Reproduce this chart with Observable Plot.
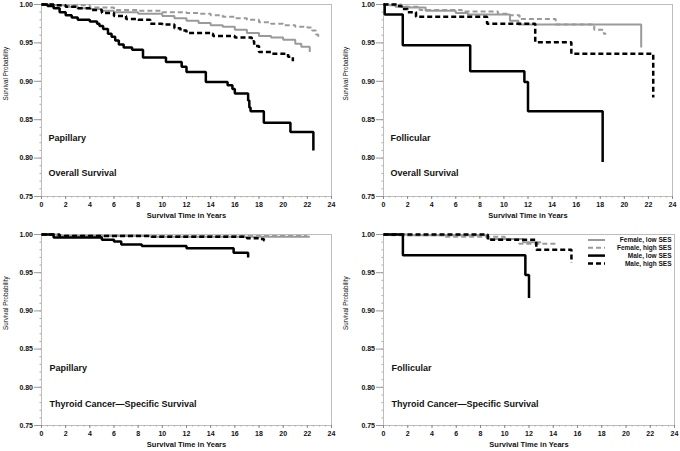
<!DOCTYPE html>
<html><head><meta charset="utf-8">
<script src="https://cdn.jsdelivr.net/npm/d3@7"></script>
<script src="https://cdn.jsdelivr.net/npm/@observablehq/plot@0.6"></script>
<style>
body{margin:0;background:#fff;}
#wrap{position:relative;width:680px;height:451px;overflow:hidden;background:#fff;}
#wrap svg{position:absolute;font-family:"Liberation Sans",Arial,sans-serif;}
</style></head><body><div id="wrap"></div>
<script>
// ---- categories / ticks ----
const groups = ["Female, low SES", "Female, high SES", "Male, low SES", "Male, high SES"];
const xTicks = [0,2,4,6,8,10,12,14,16,18,20,22,24];
const yTicks = [0.75,0.80,0.85,0.90,0.95,1.00];
const xTitle = "Survival Time in Years";
const yTitle = "Survival Probability";

// ---- Papillary, Overall Survival: [years, survival] ----
const papOS_FL = [[0,1],[1,0.999],[2,0.997],[3,0.995],[4,0.994],[5,0.992],[6,0.990],[8,0.988],[10,0.985],[11,0.982],[12,0.979],[13,0.976],[14,0.973],[15,0.971],[16,0.967],[17,0.963],[18,0.959],[19,0.957],[20,0.954],[21,0.949],[21.5,0.945],[22.2,0.945],[22.2,0.938]];
const papOS_FH = [[0,1],[1,0.9995],[2,0.999],[4,0.996],[6,0.993],[8,0.992],[10,0.990],[12,0.989],[13,0.988],[14,0.986],[15,0.984],[16,0.982],[17,0.980],[18,0.977],[19,0.975],[20,0.973],[21,0.971],[22,0.970],[22.4,0.966],[22.7,0.961],[22.9,0.957]];
const papOS_ML = [[0,1],[0.5,0.998],[1,0.995],[1.5,0.990],[2,0.986],[2.5,0.983],[3,0.980],[4,0.978],[4.6,0.975],[4.8,0.972],[5.1,0.968],[5.5,0.962],[5.8,0.958],[6.1,0.953],[6.4,0.948],[6.8,0.944],[7.5,0.941],[8.4,0.931],[10.3,0.925],[11.6,0.919],[12,0.912],[13.6,0.899],[15.4,0.895],[15.8,0.890],[16,0.884],[17.1,0.875],[17.2,0.866],[17.3,0.861],[18.4,0.846],[20.6,0.834],[22.3,0.834],[22.5,0.810]];
const papOS_MH = [[0,1],[1,0.999],[2,0.997],[3,0.995],[4,0.993],[5,0.989],[6,0.985],[7,0.981],[8,0.980],[9,0.975],[10,0.974],[11,0.969],[11.5,0.966],[12,0.963],[14,0.962],[14.2,0.959],[16,0.957],[17.4,0.952],[17.6,0.946],[18,0.938],[19,0.936],[20.4,0.932],[20.8,0.926]];

// ---- Follicular, Overall Survival ----
const folOS_FL = [[0,1],[0.5,0.999],[1,0.997],[2,0.996],[3.5,0.992],[6,0.989],[7,0.987],[10.5,0.979],[11.2,0.974],[21.4,0.974],[21.4,0.944]];
const folOS_FH = [[0,1],[1.5,0.997],[3,0.993],[6.5,0.991],[9.5,0.988],[10.5,0.986],[11.3,0.981],[14.3,0.974],[17.5,0.967],[18.3,0.962],[18.5,0.962]];
const folOS_ML = [[0,1],[0.1,0.987],[1.6,0.947],[7.2,0.913],[11.7,0.899],[12.0,0.861],[18.2,0.795]];
const folOS_MH = [[0,1],[1.2,0.998],[1.5,0.994],[2,0.990],[2.7,0.984],[8.6,0.975],[12.6,0.951],[15.6,0.936],[22.4,0.879]];

// ---- Papillary, Thyroid Cancer-Specific Survival ----
const papCS_FL = [[0,1],[1.3,0.998],[9,0.997],[22.2,0.997]];
const papCS_FH = [[0,1],[1,0.999],[8,0.998],[22,0.998]];
const papCS_ML = [[0,1],[1,0.996],[5,0.993],[6,0.991],[6.6,0.987],[8.3,0.985],[12,0.982],[15.9,0.976],[17.1,0.972],[17.1,0.970]];
const papCS_MH = [[0,1],[1.5,0.998],[9,0.997],[17,0.995],[18,0.994],[18.4,0.992],[18.6,0.992]];

// ---- Follicular, Thyroid Cancer-Specific Survival ----
const folCS_FL = [[0,1],[2,0.999],[8.6,0.994],[11.5,0.990],[13,0.990]];
const folCS_FH = [[0,1],[0.5,0.999],[5,0.997],[10,0.994],[11.2,0.988],[14.3,0.988]];
const folCS_ML = [[0,1],[1.6,0.973],[11.7,0.947],[12.0,0.917]];
const folCS_MH = [[0,1],[8.6,0.993],[12.6,0.980],[15.5,0.963]];

// ---- styles ----
const GRAY = "#9a9a9a";
const styles = [
  {stroke: GRAY, strokeWidth: 2, dash: null},
  {stroke: GRAY, strokeWidth: 2, dash: "5,3"},
  {stroke: "#000", strokeWidth: 2.5, dash: null},
  {stroke: "#000", strokeWidth: 2.5, dash: "5,3"}
];
const FONT = "Liberation Sans, Arial, sans-serif";
const xMinor = d3.range(0, 24.01, 0.5);
const yMinor = d3.range(0.75, 1.0001, 0.01);

function makePanel(cfg) {
  const marks = [
    Plot.frame({stroke: "#bdbdbd"}),
    Plot.axisX({ticks: xMinor, tickSize: 1.5, tickFormat: () => "", stroke: "#aaa", label: null}),
    Plot.axisY({ticks: yMinor, tickSize: 1.5, tickFormat: () => "", stroke: "#aaa", label: null}),
    Plot.axisX({ticks: xTicks, tickSize: 3, tickPadding: 3, fontSize: 7, fontWeight: "bold", stroke: "#888", fill: "#111", label: null}),
    Plot.axisY({ticks: yTicks, tickSize: 7, tickPadding: 1.5, tickFormat: d3.format(".2f"), fontSize: 7, fontWeight: "bold", stroke: "#999", fill: "#111", label: null}),
    Plot.text([xTitle], {frameAnchor: "bottom", dy: 21, fontSize: 7.5, fontWeight: "bold", fill: "#111"}),
    Plot.text([yTitle], {frameAnchor: "left", dx: -cfg.ml + 5, rotate: -90, fontSize: 6.3, fill: "#111"}),
    Plot.text([cfg.label1], {frameAnchor: "bottom-left", dx: cfg.ldx, dy: cfg.l1dy, fontSize: 9, fontWeight: "bold", textAnchor: "start", fill: "#111"}),
    Plot.text([cfg.label2], {frameAnchor: "bottom-left", dx: cfg.ldx, dy: cfg.l2dy, fontSize: 9, fontWeight: "bold", textAnchor: "start", fill: "#111"})
  ];
  cfg.series.forEach((pts, i) => {
    const rows = pts.map(([t, s]) => ({group: groups[i], t, s}));
    const st = styles[i];
    marks.push(Plot.line(rows, {x: "t", y: "s", curve: "step-after", stroke: st.stroke, strokeWidth: st.strokeWidth, strokeDasharray: st.dash, strokeLinejoin: "miter", strokeLinecap: "butt"}));
  });
  const svg = Plot.plot({
    width: 340, height: cfg.height,
    marginLeft: cfg.ml, marginRight: cfg.mr, marginTop: cfg.mt, marginBottom: cfg.mb,
    style: {fontFamily: FONT, background: "transparent", overflow: "visible"},
    x: {domain: [0, 24]},
    y: {domain: [0.75, 1.0]},
    marks
  });
  svg.style.left = cfg.left + "px";
  svg.style.top = cfg.top + "px";
  return svg;
}

const wrap = document.getElementById("wrap");
const p1 = makePanel({left: 0, top: 0, height: 225, ml: 41, mr: 9, mt: 4, mb: 29, ldx: 7, l1dy: -56, l2dy: -21,
  label1: "Papillary", label2: "Overall Survival", series: [papOS_FL, papOS_FH, papOS_ML, papOS_MH]});
const p2 = makePanel({left: 340, top: 0, height: 225, ml: 43, mr: 8, mt: 4, mb: 29, ldx: 7, l1dy: -56, l2dy: -21,
  label1: "Follicular", label2: "Overall Survival", series: [folOS_FL, folOS_FH, folOS_ML, folOS_MH]});
const p3 = makePanel({left: 0, top: 225, height: 226, ml: 41, mr: 9, mt: 9, mb: 26, ldx: 8, l1dy: -55, l2dy: -19,
  label1: "Papillary", label2: "Thyroid Cancer\u2014Specific Survival", series: [papCS_FL, papCS_FH, papCS_ML, papCS_MH]});
const p4 = makePanel({left: 340, top: 225, height: 226, ml: 43, mr: 6, mt: 9, mb: 26, ldx: 8, l1dy: -55, l2dy: -19,
  label1: "Follicular", label2: "Thyroid Cancer\u2014Specific Survival", series: [folCS_FL, folCS_FH, folCS_ML, folCS_MH]});
[p1, p2, p3, p4].forEach(s => wrap.appendChild(s));

// legend in the last panel (top-right)
const lg = d3.select(p4).append("g").attr("font-family", FONT).attr("font-size", 6.5).attr("font-weight", "bold");
groups.forEach((g, i) => {
  const y = 15 + i * 7.8;
  const st = styles[i];
  lg.append("line").attr("x1", 248).attr("x2", 265).attr("y1", y).attr("y2", y)
    .attr("stroke", st.stroke).attr("stroke-width", st.strokeWidth)
    .attr("stroke-dasharray", st.dash);
  lg.append("text").attr("x", 331.5).attr("y", y).attr("dy", "0.35em").attr("text-anchor", "end")
    .attr("fill", "#111").text(g);
});
</script></body></html>
